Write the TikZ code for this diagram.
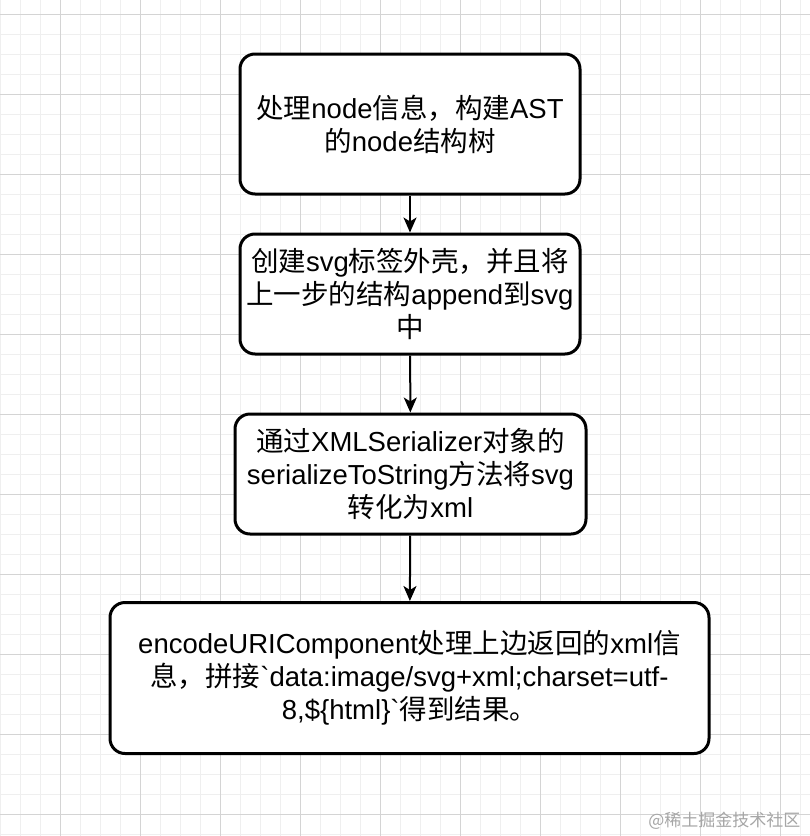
\documentclass[tikz,border=0pt]{standalone}
\usepackage{fontspec}
\setmainfont{Liberation Sans}
\newfontfamily\cjk{Noto Sans CJK SC}
\usetikzlibrary{arrows.meta, positioning}

\definecolor{minorgrid}{HTML}{EFEFEF}
\definecolor{majorgrid}{HTML}{D4D4D4}
\definecolor{markgray}{HTML}{A6A6A6}

\begin{document}
\begin{tikzpicture}[
    x=1pt, y=-1pt,
    every node/.style={font=\fontsize{27.5}{33}\selectfont},
    stepbox/.style={draw, line width=3pt, rounded corners=15pt, fill=white,
        align=center, inner sep=0pt},
    flow/.style={line width=2pt, -{Stealth[length=15pt, width=13pt, inset=4pt]}},
    thin grid/.style={draw=minorgrid, line width=1pt},
    thick grid/.style={draw=majorgrid, line width=1pt},
]
\useasboundingbox (0,0) rectangle (810,836);
\fill[white] (0,0) rectangle (810,836);

% Background grid
\foreach \x in {0,20,...,800} {
    \draw[thin grid] (\x,0) -- (\x,836);
}
\foreach \y in {14,34,...,834} {
    \draw[thin grid] (0,\y) -- (810,\y);
}
\foreach \x in {60,140,...,780} {
    \draw[thick grid] (\x,0) -- (\x,836);
}
\foreach \y in {14,94,...,814} {
    \draw[thick grid] (0,\y) -- (810,\y);
}

% Steps
\node[stepbox, minimum width=340pt, minimum height=140pt] (build) at (410,124)
    {{\cjk 处理}node{\cjk 信息，构建}AST\\{\cjk 的}node{\cjk 结构树}};
\node[stepbox, minimum width=340pt, minimum height=120pt] (wrap) at (410,294)
    {{\cjk 创建}svg{\cjk 标签外壳，并且将}\\{\cjk 上一步的结构}append{\cjk 到}svg\\{\cjk 中}};
\node[stepbox, minimum width=351pt, minimum height=120pt] (serial) at (410.5,474)
    {{\cjk 通过}XMLSerializer{\cjk 对象的}\\serializeToString{\cjk 方法将}svg\\{\cjk 转化为}xml};
\node[stepbox, minimum width=599pt, minimum height=151pt] (encode) at (409.5,678)
    {encodeURIComponent{\cjk 处理上边返回的}xml{\cjk 信}\\
     {\cjk 息，拼接}\textasciigrave data:image/svg+xml;charset=utf-\\
     8,\$\{html\}\textasciigrave{\cjk 得到结果。}};

% Connectors
\draw[flow] (build) -- (wrap);
\draw[flow] (wrap) -- (serial);
\draw[flow] (serial) -- (encode);

% Watermark
\node[font=\cjk\fontsize{17}{20}\selectfont, text=markgray, anchor=east] (mark) at (804,821)
    {@稀土掘金技术社区};

\end{tikzpicture}
\end{document}
